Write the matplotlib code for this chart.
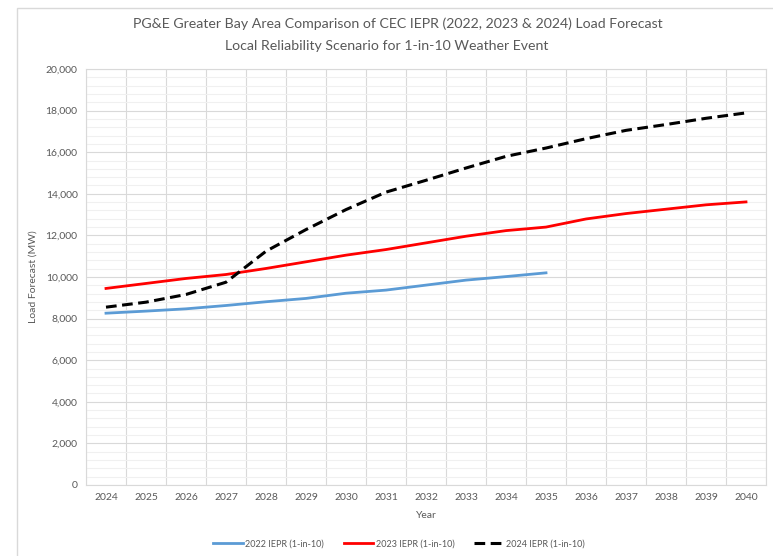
import matplotlib
matplotlib.use("Agg")
import matplotlib.pyplot as plt
from matplotlib.patches import Rectangle
from matplotlib.ticker import FuncFormatter, MultipleLocator
import numpy as np

years = [str(y) for y in range(2024, 2041)]

iepr_2022 = [8260, 8360, 8470, 8630, 8810, 8970, 9220, 9370, 9610, 9850, 10020, 10200]
iepr_2023 = [9450, 9690, 9930, 10120, 10410, 10730, 11050, 11320, 11640, 11960, 12230,
             12400, 12790, 13050, 13260, 13470, 13610]
iepr_2024 = [8550, 8790, 9160, 9750, 11240, 12280, 13240, 14080, 14650, 15240, 15800,
             16200, 16650, 17050, 17330, 17630, 17890]

labels = ["2022 IEPR (1-in-10)", "2023 IEPR (1-in-10)", "2024 IEPR (1-in-10)"]

plt.rcParams.update({
    "font.family": ["Lato", "DejaVu Sans"],
    "text.color": "#595959",
    "axes.labelcolor": "#595959",
    "xtick.color": "#595959",
    "ytick.color": "#595959",
})

fig = plt.figure(figsize=(7.73, 5.56), dpi=100)
ax = fig.add_axes([86 / 773, 1 - 485 / 556, 680 / 773, 416 / 556])

# outer chart border (Excel style)
fig.patches.append(Rectangle((17 / 773, -0.05), 1.1, 1 - 8 / 556 + 0.05,
                             transform=fig.transFigure, fill=False,
                             edgecolor="#d9d9d9", linewidth=1.0))

x = np.arange(len(years))
ax.plot(x[:len(iepr_2022)], iepr_2022, color="#5b9bd5", linewidth=2.0, label=labels[0])
ax.plot(x, iepr_2023, color="#ff0000", linewidth=2.0, label=labels[1])
ax.plot(x, iepr_2024, color="black", linewidth=2.2, linestyle=(0, (3.5, 1.8)), label=labels[2])

ax.set_xlim(-0.5, len(years) - 0.5)
ax.set_ylim(0, 20000)
ax.set_xticks(x)
ax.set_xticklabels(years)
ax.set_xticks(np.arange(-0.5, len(years), 1), minor=True)
ax.yaxis.set_major_locator(MultipleLocator(2000))
ax.yaxis.set_minor_locator(MultipleLocator(400))
ax.yaxis.set_major_formatter(FuncFormatter(lambda v, p: f"{int(v):,}"))

ax.grid(True, which="minor", axis="x", color="#d9d9d9", linewidth=0.8)
ax.grid(True, which="major", axis="y", color="#d9d9d9", linewidth=0.8)
ax.grid(True, which="minor", axis="y", color="#f0f0f0", linewidth=0.8)
ax.set_axisbelow(True)
ax.tick_params(which="both", length=0, labelsize=7.5, pad=6)
for s in ax.spines.values():
    s.set_color("#d9d9d9")
    s.set_linewidth(0.8)

ax.set_xlabel("Year", fontsize=7.5, labelpad=6)
ax.set_ylabel("Load Forecast (MW)", fontsize=7.5, labelpad=6)

fig.text(398 / 773, 1 - 24 / 556, "PG&E Greater Bay Area Comparison of CEC IEPR (2022, 2023 & 2024) Load Forecast",
         ha="center", va="center", fontsize=10.2)
fig.text(387 / 773, 1 - 46 / 556, "Local Reliability Scenario for 1-in-10 Weather Event",
         ha="center", va="center", fontsize=10.2)

fig.legend(loc="center", bbox_to_anchor=(399 / 773, 1 - 544 / 556), ncol=3, frameon=False,
           fontsize=6.5, handlelength=3.3, handletextpad=0.25, columnspacing=2.2)

fig.savefig("out.png", dpi=100)
